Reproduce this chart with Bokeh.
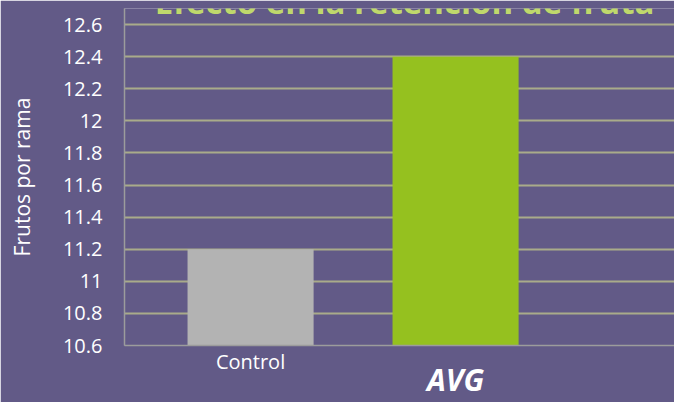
from bokeh.plotting import figure
from bokeh.models import FixedTicker, NumeralTickFormatter, Label, ColumnDataSource, LinearAxis
from bokeh.embed import file_html
from bokeh.resources import INLINE

categories = ["Control", "AVG"]
values = [11.2, 12.4]
colors = ["#b3b3b3", "#95c11f"]
y_ticks = [10.6, 10.8, 11.0, 11.2, 11.4, 11.6, 11.8, 12.0, 12.2, 12.4, 12.6]
title_text = "Efecto en la retención de fruta"
y_label = "Frutos por rama"

BG = "#625a87"
W, H = 674, 402

src = ColumnDataSource(dict(x=list(range(len(categories))), top=values, color=colors))

p = figure(width=W, height=H, output_backend="svg", toolbar_location=None,
           x_range=(-0.615, 2.068), y_range=(10.6, 12.7),
           min_border_left=124, min_border_right=0, min_border_top=8, min_border_bottom=57)
p.background_fill_color = BG
p.border_fill_color = BG
p.outline_line_color = None

p.vbar(x="x", top="top", bottom=10.6, width=0.615, color="color", source=src, line_color=None)

# grid
p.xgrid.grid_line_color = None
p.ygrid.grid_line_color = "#a9ab8a"
p.ygrid.grid_line_width = 2
p.ygrid.ticker = FixedTicker(ticks=y_ticks)

# y axis
ya = p.yaxis[0]
ya.ticker = FixedTicker(ticks=y_ticks)
ya.formatter = NumeralTickFormatter(format="0.[0]")
ya.major_tick_line_color = None
ya.minor_tick_line_color = None
ya.axis_line_color = "#9c9c9c"
ya.axis_line_width = 1.5
ya.major_label_text_color = "white"
ya.major_label_text_font = "Open Sans"
ya.major_label_text_font_size = "20px"
ya.major_label_standoff = 16
ya.axis_label = y_label
ya.axis_label_text_color = "white"
ya.axis_label_text_font = "Open Sans"
ya.axis_label_text_font_style = "normal"
ya.axis_label_text_font_size = "21px"
ya.axis_label_standoff = 24

# x axis (Control)
xa = p.xaxis[0]
xa.ticker = FixedTicker(ticks=[0, 1])
xa.major_label_overrides = {0: categories[0], 1: ""}
xa.major_tick_line_color = None
xa.minor_tick_line_color = None
xa.axis_line_color = "#9c9c9c"
xa.axis_line_width = 1.5
xa.major_label_text_color = "white"
xa.major_label_text_font = "Open Sans"
xa.major_label_text_font_size = "20px"
xa.major_label_standoff = -4

# second x axis for the AVG logo-like label
xa2 = LinearAxis(ticker=FixedTicker(ticks=[1]), major_label_overrides={1: categories[1]})
xa2.axis_line_color = None
xa2.major_tick_line_color = None
xa2.minor_tick_line_color = None
xa2.major_label_text_color = "white"
xa2.major_label_text_font = "Open Sans"
xa2.major_label_text_font_style = "bold italic"
xa2.major_label_text_font_size = "30px"
xa2.major_label_standoff = -25
p.add_layout(xa2, "below")

# title (cut at the top, as in the reference)
p.add_layout(Label(x=0.751, y=12.743, text=title_text,
                   text_align="center", text_baseline="alphabetic",
                   text_color="#bfd86c", text_font="Open Sans", text_font_style="bold",
                   text_font_size="33px"))

open("out.html", "w").write(file_html(p, INLINE))
